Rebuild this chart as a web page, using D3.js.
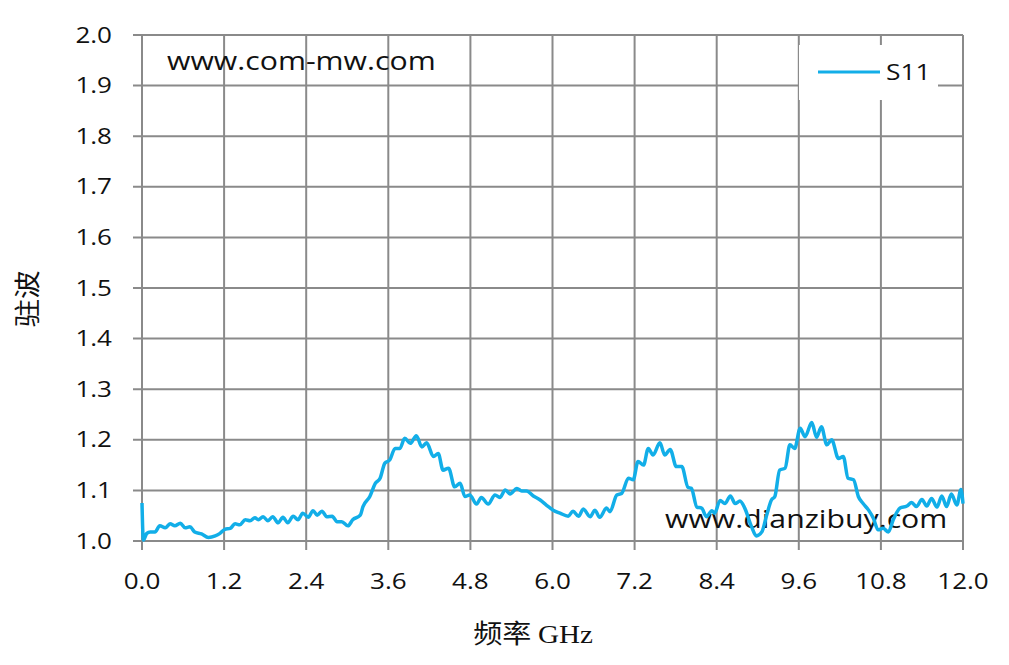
<!DOCTYPE html>
<html><head><meta charset="utf-8">
<script src="https://cdn.jsdelivr.net/npm/d3@7"></script>
<style>body{margin:0;background:#fff}svg{display:block}</style>
</head><body>
<svg id="c" width="1009" height="665"></svg>
<script>
const freq = [0.00,0.02,0.07,0.12,0.19,0.26,0.34,0.41,0.48,0.56,0.63,0.70,0.77,0.87,0.97,1.07,1.14,1.21,1.29,1.36,1.43,1.51,1.58,1.65,1.70,1.77,1.84,1.91,1.99,2.06,2.13,2.21,2.28,2.35,2.43,2.50,2.56,2.63,2.70,2.78,2.85,2.92,3.01,3.08,3.19,3.23,3.33,3.41,3.48,3.55,3.62,3.70,3.77,3.84,
3.92,4.01,4.09,4.16,4.26,4.33,4.40,4.48,4.57,4.65,4.72,4.79,4.89,4.96,5.06,5.16,5.23,5.31,5.38,5.48,5.55,5.62,5.72,5.82,5.91,6.01,6.11,6.23,6.30,6.38,6.45,6.55,6.62,6.69,6.79,6.84,6.94,7.01,7.11,7.18,7.25,7.33,7.40,7.47,7.57,7.64,7.72,7.81,7.89,7.98,8.03,8.11,8.18,8.25,8.33,8.37,8.45,8.52,8.60,8.67,8.74,8.81,8.91,8.98,9.06,9.13,9.20,9.25,9.32,9.40,9.47,9.54,9.62,9.69,9.79,9.86,9.93,10.01,10.08,10.18,10.25,10.32,10.40,10.47,10.54,10.62,10.69,10.76,10.83,10.91,10.98,11.08,11.18,11.25,11.32,11.40,11.47,11.54,11.62,11.69,11.76,11.83,11.91,11.97,12.00];
const s11 = [1.075,1.002,1.015,1.018,1.018,1.030,1.026,1.034,1.030,1.035,1.026,1.028,1.018,1.014,1.007,1.010,1.015,1.023,1.025,1.034,1.032,1.042,1.040,1.046,1.042,1.048,1.040,1.048,1.036,1.047,1.036,1.049,1.042,1.055,1.047,1.060,1.051,1.059,1.048,1.049,1.038,1.038,1.030,1.042,1.051,1.068,1.088,1.114,1.124,1.154,1.160,1.183,1.183,1.203,
1.193,1.208,1.186,1.194,1.167,1.173,1.140,1.144,1.107,1.114,1.088,1.091,1.073,1.086,1.073,1.091,1.086,1.101,1.093,1.104,1.099,1.099,1.089,1.081,1.071,1.061,1.055,1.049,1.059,1.049,1.063,1.048,1.061,1.047,1.065,1.058,1.091,1.094,1.124,1.121,1.157,1.150,1.183,1.170,1.194,1.170,1.181,1.147,1.147,1.106,1.104,1.067,1.065,1.048,1.060,1.055,1.080,1.074,1.089,1.074,1.079,1.065,1.028,1.010,1.018,1.051,1.081,1.088,1.140,1.144,1.190,1.183,1.223,1.206,1.234,1.205,1.226,1.190,1.200,1.163,1.167,1.124,1.121,1.088,1.074,1.061,1.045,1.022,1.025,1.018,1.042,1.065,1.069,1.076,1.068,1.082,1.069,1.084,1.067,1.089,1.068,1.093,1.071,1.102,1.074];
const xTicks = [0,1.2,2.4,3.6,4.8,6.0,7.2,8.4,9.6,10.8,12.0];
const yTicks = [1.0,1.1,1.2,1.3,1.4,1.5,1.6,1.7,1.8,1.9,2.0];
const seriesName = "S11";
const xTitleCn = "频率", xTitleUnit = "GHz", yTitle = "驻波";
const notes = ["www.com-mw.com","www.dianzibuy.com"];

const svg = d3.select("#c");
const x = d3.scaleLinear().domain([0,12]).range([142,963]);
const y = d3.scaleLinear().domain([1,2]).range([541,35]);
const gridCol = "#8a8a8a";
const tickFont = "'Open Sans', sans-serif";
const SX = 1.24; // horizontal stretch of the reference text

function label(g, px, py, txt, opts){
  const t = g.append("text")
    .attr("transform",`translate(${px},${py}) scale(${opts.sx||SX},1)`)
    .attr("text-anchor",opts.anchor||"start")
    .attr("font-family",opts.font||tickFont).attr("font-size",opts.size||21)
    .attr("fill","#111");
  if (opts.dy) t.attr("dy",opts.dy);
  t.text(txt);
  return t;
}

// grid
svg.append("g").selectAll("line").data(xTicks).join("line")
  .attr("x1",d=>x(d)).attr("x2",d=>x(d)).attr("y1",y(2)).attr("y2",y(1)+9)
  .attr("stroke",gridCol).attr("stroke-width",2);
svg.append("g").selectAll("line").data(yTicks).join("line")
  .attr("x1",x(0)-9).attr("x2",x(12)).attr("y1",d=>y(d)).attr("y2",d=>y(d))
  .attr("stroke",gridCol).attr("stroke-width",2);

// tick labels
const gy = svg.append("g");
yTicks.forEach(d=>label(gy,112,y(d),d3.format(".1f")(d),{anchor:"end",dy:"0.36em"}));
const gx = svg.append("g");
xTicks.forEach(d=>label(gx,x(d),589,d3.format(".1f")(d),{anchor:"middle"}));

// titles
svg.append("text").attr("transform","translate(37,299) rotate(-90) scale(1.1,1)")
  .attr("text-anchor","middle").attr("font-family","'Noto Sans CJK SC'").attr("font-size",26).attr("fill","#111").text(yTitle);
const xt = svg.append("text").attr("transform","translate(533,643) scale(1.12,1)").attr("text-anchor","middle").attr("fill","#111").attr("font-size",26);
xt.append("tspan").attr("font-family","'Noto Sans CJK SC'").text(xTitleCn+"\u00a0");
xt.append("tspan").attr("font-family","'Liberation Serif'").text(xTitleUnit);

// watermark notes
const gn = svg.append("g");
label(gn,167,70,notes[0],{size:25,sx:1.21});
label(gn,665,528,notes[1],{size:25,sx:1.21});

// legend
svg.append("rect").attr("x",799).attr("y",45).attr("width",139).attr("height",55).attr("fill","#fff");
svg.append("line").attr("x1",818).attr("x2",880).attr("y1",72).attr("y2",72).attr("stroke","#12aee8").attr("stroke-width",3);
label(svg,886,80,seriesName,{size:22,sx:1.2});

// series
const line = d3.line().x((d,i)=>x(freq[i])).y(d=>y(d)).curve(d3.curveMonotoneX);
svg.append("path").datum(s11).attr("d",line).attr("fill","none")
  .attr("stroke","#12aee8").attr("stroke-width",3.5).attr("stroke-linejoin","round");
</script>
</body></html>
